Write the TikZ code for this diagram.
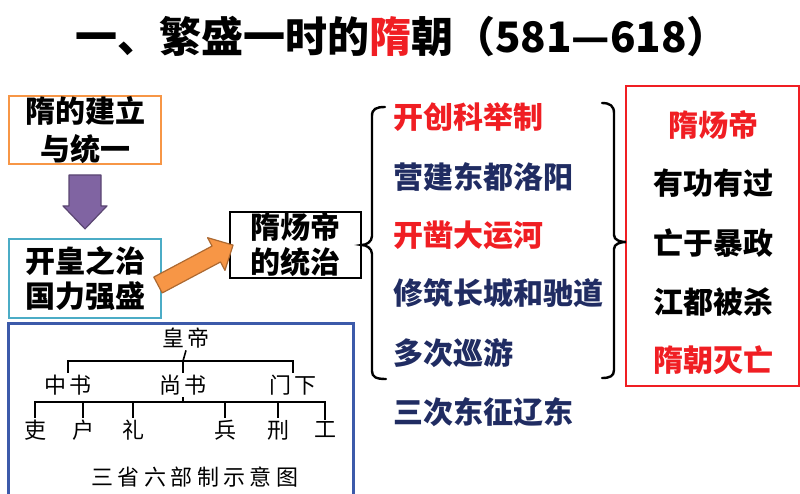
\documentclass[tikz,border=0pt]{standalone}
\usepackage{fontspec}
\setmainfont{Noto Sans CJK SC}
\newfontfamily\chartfont{Noto Sans CJK SC}[LetterSpace=14]
\usepackage{xcolor}
\usepackage{tikz}
\definecolor{hotred}{RGB}{240,30,35}
\definecolor{navy}{RGB}{32,44,98}
\definecolor{boxorange}{RGB}{247,150,70}
\definecolor{boxcyan}{RGB}{75,172,198}
\definecolor{arrowpurple}{RGB}{128,100,162}
\definecolor{chartblue}{RGB}{60,90,170}
\tikzset{
  topicbox/.style  = {draw, line width=1.8pt, inner sep=0pt, align=center,
                      font=\fontsize{30}{35}\selectfont\bfseries},
  deed/.style      = {anchor=west, inner sep=0pt, navy,
                      font=\fontsize{30}{36}\selectfont\bfseries},
  verdict/.style   = {inner sep=0pt, font=\fontsize{30}{36}\selectfont\bfseries},
  bracket/.style   = {line width=2.4pt, line cap=round},
  blockarrow/.style= {line width=1.2pt, line join=round},
  treeline/.style  = {line width=1.6pt},
  office/.style    = {inner sep=2pt, font=\chartfont\fontsize{22}{24}\selectfont}
}

\begin{document}
\begin{tikzpicture}[x=1pt,y=-1pt]
  \clip (0,0) rectangle (800,493);
  % --- title
  \node[font=\fontsize{42}{46}\selectfont\bfseries] (title) at (402,37)
       {一、繁盛一时的\textcolor{hotred}{隋}朝（581—618）};
  % --- left column
  \node[topicbox,draw=boxorange,minimum width=152,minimum height=68,
        font=\fontsize{30}{38}\selectfont\bfseries] (found) at (85,130) {隋的建立\\与统一};
  \node[topicbox,draw=boxcyan,minimum width=152,minimum height=79] (kaihuang) at (85,278.5)
       {开皇之治\\国力强盛};
  \node[topicbox,line width=1.4pt,minimum width=131,minimum height=66] (yangdi) at (295.5,245)
       {隋炀帝\\的统治};
  \begin{scope}[shift={(found.south)}]
    \draw[blockarrow,fill=arrowpurple,draw=arrowpurple!70!black]
      (-16,10) -- (16,10) -- (16,41) -- (22,41) -- (0,64) -- (-22,41) -- (-16,41) -- cycle;
  \end{scope}
  \begin{scope}[shift={(158,285)},rotate=28]
    \draw[blockarrow,fill=boxorange,draw=boxorange!70!black]
      (0,-9) -- (66,-9) -- (66,-18.5) -- (85,0) -- (66,18.5) -- (66,9) -- (0,9) -- cycle;
  \end{scope}
  % --- deeds of Yangdi
  \draw[bracket] (385,107) .. controls (376,107) and (372,109) .. (372,116) -- (372,236)
    .. controls (372,242) and (366,245) .. (yangdi.east)
    .. controls (366,245) and (372,248) .. (372,254) -- (372,371)
    .. controls (372,377) and (376,379) .. (386,379);
  \node[deed,hotred] (keju)   at (393,117) {开创科举制};
  \node[deed]        (luoyang) at (393,177) {营建东都洛阳};
  \node[deed,hotred] (canal)  at (393,235) {开凿大运河};
  \node[deed]        (wall)   at (393,293) {修筑长城和驰道};
  \node[deed]        (tour)   at (393,353) {多次巡游};
  \node[deed]        (liaodong) at (393,412) {三次东征辽东};
  % --- verdict
  \node[draw=hotred,line width=1.2pt,minimum width=173,minimum height=300] (verdicts) at (712.5,236) {};
  \coordinate (rtip) at (626,242);
  \draw[bracket] (602,103) .. controls (610,103) and (614,106) .. (614,113) -- (614,235)
    .. controls (614,240) and (620,242) .. (rtip)
    .. controls (620,242) and (614,244) .. (614,249) -- (614,370)
    .. controls (614,376) and (610,378) .. (602,378);
  \node[verdict,hotred] (emperor) at (713,125) {隋炀帝};
  \node[verdict] (merit)  at (713,183) {有功有过};
  \node[verdict] (tyranny) at (713,243) {亡于暴政};
  \node[verdict] (killed) at (713,302) {江都被杀};
  \node[verdict,hotred] (fall) at (713,360) {隋朝灭亡};
  % --- three departments and six ministries
  \node[draw=chartblue,line width=2.6pt,minimum width=345,minimum height=180,anchor=north west]
       (chart) at (7,322) {};
  \node[office] (emp)  at (186,338) {皇帝};
  \node[office] (zs)   at (68,385)  {中书};
  \node[office] (ss)   at (183,385) {尚书};
  \node[office] (mx)   at (293,385) {门下};
  \node[office] (li)   at (35,430)  {吏};
  \node[office] (hu)   at (83,430)  {户};
  \node[office] (lii)  at (133,430) {礼};
  \node[office] (bing) at (225,430) {兵};
  \node[office] (xing) at (278,430) {刑};
  \node[office] (gong) at (325,430) {工};
  \node[office,font=\chartfont\fontsize{22}{24}\selectfont\addfontfeature{LetterSpace=20}]
       (caption) at (195,477) {三省六部制示意图};
  \coordinate (bar1) at (183,361);
  \coordinate (bar2) at (183,402);
  \draw[treeline] (emp.south) -- (bar1);
  \draw[treeline] (zs.north) |- (bar1) -| (mx.north);
  \draw[treeline] (bar1) -- (ss.north);
  \draw[treeline] (ss.south) -- (bar2);
  \draw[treeline] (li.north) |- (bar2) -| (gong.north);
  \foreach \d in {hu,lii,bing,xing}
    \draw[treeline] (\d.north) -- (\d.north |- bar2);
\end{tikzpicture}
\end{document}
